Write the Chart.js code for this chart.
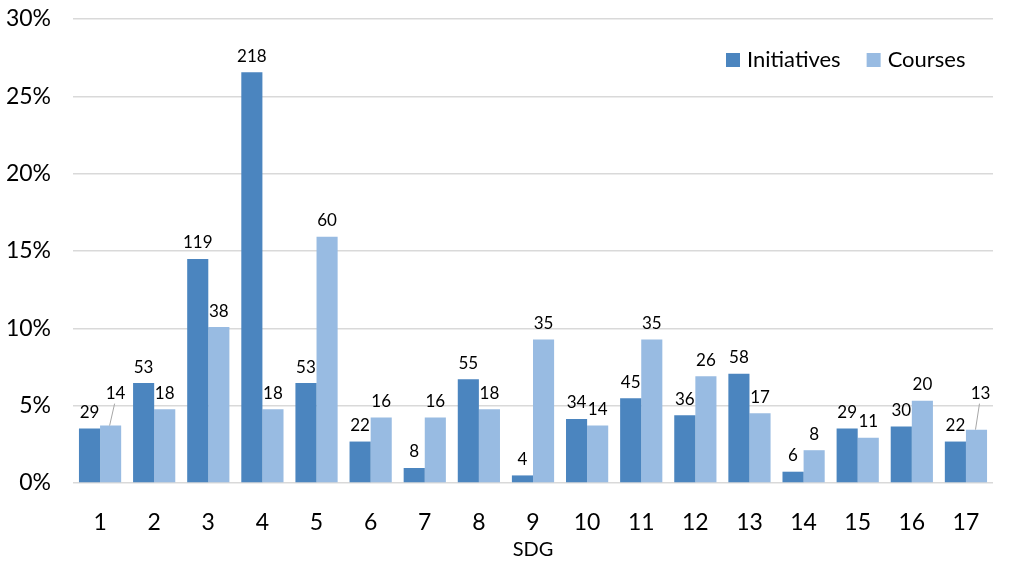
<!DOCTYPE html>
<html lang="en">
<head>
<meta charset="UTF-8">
<title>SDG initiatives and courses</title>
<style>
    html, body { margin: 0; padding: 0; background: #ffffff; }
    #wrap { width: 1013px; height: 570px; }
</style>
<script src="https://cdn.jsdelivr.net/npm/chart.js"></script>
</head>
<body>
<div id="wrap"><canvas id="graph" width="1013" height="570"></canvas></div>
<script>
    // SDG numbers on the x axis
    const sdgLabels = ["1","2","3","4","5","6","7","8","9","10","11","12","13","14","15","16","17"];

    // share of all initiatives / courses per SDG, in percent (bar heights)
    const initiativesPct = [3.53, 6.46, 14.49, 26.55, 6.46, 2.68, 0.97, 6.70, 0.49, 4.14, 5.48, 4.38, 7.06, 0.73, 3.53, 3.65, 2.68];
    const coursesPct     = [3.71, 4.77, 10.08, 4.77, 15.92, 4.24, 4.24, 4.77, 9.28, 3.71, 9.28, 6.90, 4.51, 2.12, 2.92, 5.31, 3.45];

    // counts printed above the bars
    const initiativesCount = [29, 53, 119, 218, 53, 22, 8, 55, 4, 34, 45, 36, 58, 6, 29, 30, 22];
    const coursesCount     = [14, 18, 38, 18, 60, 16, 16, 18, 35, 14, 35, 26, 17, 8, 11, 20, 13];

    const yTicks = [0, 5, 10, 15, 20, 25, 30];

    const FONT = "Lato, 'Open Sans', sans-serif";

    // labels that are pulled away from their bar with a small leader line
    const movedLabels = {
        "1-0":  { dx: 5, dy: -16 },
        "1-16": { dx: 4, dy: -20 }
    };

    const barLabels = {
        id: 'barLabels',
        afterDatasetsDraw(chart) {
            const ctx = chart.ctx;
            ctx.save();
            ctx.font = "17px " + FONT;
            ctx.fillStyle = "#000";
            ctx.textAlign = "center";
            ctx.textBaseline = "middle";
            chart.data.datasets.forEach((ds, di) => {
                const meta = chart.getDatasetMeta(di);
                meta.data.forEach((bar, i) => {
                    const txt = String(ds.counts[i]);
                    let x = bar.x, y = bar.y - 16;
                    const mv = movedLabels[di + "-" + i];
                    if (mv) {
                        x += mv.dx;
                        y += mv.dy;
                        ctx.strokeStyle = "#a6a6a6";
                        ctx.lineWidth = 1;
                        ctx.beginPath();
                        ctx.moveTo(x - 1, y + 10);
                        ctx.lineTo(bar.x - 1, bar.y);
                        ctx.stroke();
                    }
                    ctx.fillText(txt, x, y);
                });
            });
            ctx.restore();
        }
    };

    const innerLegend = {
        id: 'innerLegend',
        afterDraw(chart) {
            const ctx = chart.ctx;
            ctx.save();
            ctx.font = "22px " + FONT;
            ctx.textBaseline = "middle";
            ctx.textAlign = "left";
            const y = 60;
            let x = 726;
            chart.data.datasets.forEach(ds => {
                ctx.fillStyle = ds.backgroundColor;
                ctx.fillRect(x, y - 7, 14, 14);
                ctx.fillStyle = "#000";
                ctx.fillText(ds.label, x + 21, y);
                x += 21 + ctx.measureText(ds.label).width + 26;
            });
            ctx.restore();
        }
    };

    new Chart(document.getElementById('graph').getContext('2d'), {
        type: 'bar',
        data: {
            labels: sdgLabels,
            datasets: [{
                label: 'Initiatives',
                data: initiativesPct,
                counts: initiativesCount,
                backgroundColor: '#4b85bf'
            }, {
                label: 'Courses',
                data: coursesPct,
                counts: coursesCount,
                backgroundColor: '#98bbe2'
            }]
        },
        options: {
            responsive: false,
            animation: false,
            layout: { padding: { top: 19, right: 20, left: 0, bottom: 0 } },
            datasets: { bar: { barPercentage: 1, categoryPercentage: 0.78 } },
            scales: {
                x: {
                    grid: { display: false },
                    border: { display: false },
                    ticks: { color: '#000', font: { size: 23, family: FONT }, padding: 18 },
                    title: { display: true, text: 'SDG', color: '#000', font: { size: 20, family: FONT }, padding: { top: 6, bottom: 8 } },
                    afterFit(scale) {
                        scale.height = 87;
                        scale.paddingLeft = 0;
                        scale.paddingRight = 0;
                    }
                },
                y: {
                    min: 0,
                    max: 30,
                    afterBuildTicks(scale) { scale.ticks = yTicks.map(v => ({ value: v })); },
                    grid: { color: '#d9d9d9', lineWidth: 1.5, drawTicks: false },
                    border: { display: false },
                    ticks: { color: '#000', font: { size: 23, family: FONT }, padding: 22, callback: v => v + '%' },
                    afterFit(scale) {
                        scale.width = 73;
                        scale.paddingTop = 0;
                        scale.paddingBottom = 0;
                    }
                }
            },
            plugins: {
                legend: { display: false },
                tooltip: { enabled: false }
            }
        },
        plugins: [barLabels, innerLegend]
    });
</script>
</body>
</html>
